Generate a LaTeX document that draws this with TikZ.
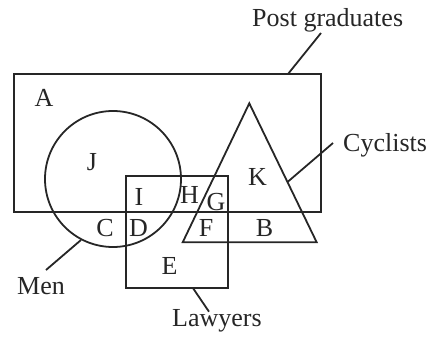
\documentclass[tikz,border=0pt]{standalone}
\usepackage{fontspec}
\setmainfont{Liberation Serif}
\begin{document}
\begin{tikzpicture}[x=1pt,y=-1pt,
  shp/.style={line width=1.8pt, draw=black!85},
  lbl/.style={font=\fontsize{26}{30}\selectfont, inner sep=0pt, text=black!85},
  lead/.style={line width=1.8pt, draw=black!85}]
\useasboundingbox (0,0) rectangle (433,343);
% shapes
\draw[shp] (14,74) rectangle (321,211.7);
\draw[shp] (113,179) circle (68);
\draw[shp] (125.7,175.7) rectangle (227.7,287.7);
\draw[shp] (249.3,103.3) -- (316.7,242.3) -- (182.7,242.3) -- cycle;
% leader anchor points
\coordinate (pgpt) at (288,74);
\coordinate (pgend) at (321,33);
\coordinate (cypt) at (287.5,182);
\coordinate (cyend) at (333,143);
\coordinate (mnpt) at (81,240);
\coordinate (mnend) at (46,270);
\coordinate (lwpt) at (192.7,287.7);
\coordinate (lwend) at (209,311.7);
% outer labels
\node[lbl, anchor=base west] (pg) at (252,26) {Post graduates};
\node[lbl, anchor=base west] (cy) at (343,151.7) {Cyclists};
\node[lbl, anchor=base west] (mn) at (17,294) {Men};
\node[lbl, anchor=base west] (lw) at (172,326.7) {Lawyers};
\draw[lead] (pgpt) -- (pgend);
\draw[lead] (cypt) -- (cyend);
\draw[lead] (mnpt) -- (mnend);
\draw[lead] (lwpt) -- (lwend);
% region letters
\node[lbl, anchor=base] (A) at (44,106.7) {A};
\node[lbl, anchor=base] (J) at (92,170) {J};
\node[lbl, anchor=base] (I) at (139,205.7) {I};
\node[lbl, anchor=base] (H) at (189.5,203.3) {H};
\node[lbl, anchor=base] (G) at (216,210) {G};
\node[lbl, anchor=base] (K) at (257.5,185) {K};
\node[lbl, anchor=base] (C) at (105,236.7) {C};
\node[lbl, anchor=base] (D) at (138.5,236) {D};
\node[lbl, anchor=base] (F) at (206,236) {F};
\node[lbl, anchor=base] (B) at (264.5,236) {B};
\node[lbl, anchor=base] (E) at (169.5,274) {E};
\end{tikzpicture}
\end{document}
